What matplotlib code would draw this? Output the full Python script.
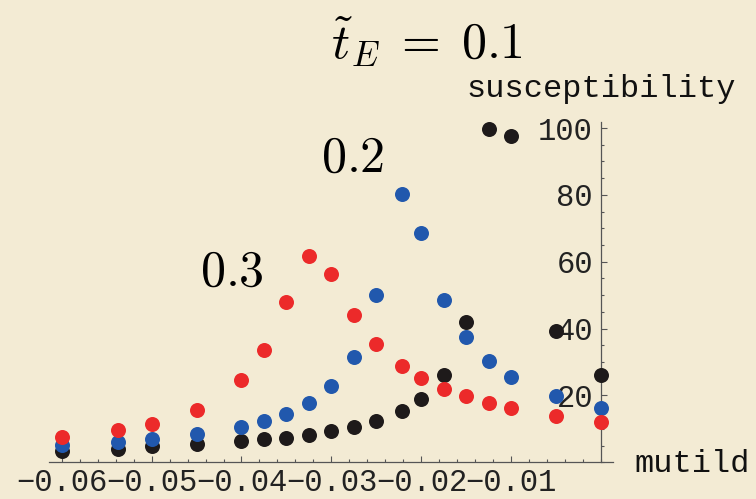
import matplotlib
matplotlib.use("Agg")
import matplotlib.pyplot as plt
from matplotlib.ticker import MultipleLocator, FixedLocator

plt.rcParams['mathtext.fontset'] = 'cm'

BG = '#f3ebd4'
MONO = 'Liberation Mono'

# mutild values
mu = [-0.06, -0.0537, -0.05, -0.045, -0.04, -0.0375, -0.035, -0.0325, -0.03,
      -0.0275, -0.025, -0.0222, -0.02, -0.0175, -0.015, -0.0125, -0.01,
      -0.005, 0.0]

# susceptibility for t_E = 0.1, 0.2, 0.3
chi_01 = [3.5, 4.1, 4.9, 5.4, 6.4, 6.9, 7.4, 8.3, 9.3, 10.5, 12.5, 15.4,
          19.0, 26.0, 42.0, 99.8, 97.6, 39.3, 26.0]
chi_02 = [5.2, 6.1, 7.1, 8.5, 10.7, 12.3, 14.5, 17.7, 22.7, 31.4, 50.0, 80.4,
          68.6, 48.5, 37.4, 30.2, 25.6, 19.7, 16.2]
chi_03 = [7.5, 9.6, 11.5, 15.7, 24.5, 33.5, 47.9, 61.6, 56.2, 44.2, 35.4,
          28.8, 25.2, 22.0, 19.7, 17.7, 16.2, 13.8, 12.0]

series = [(chi_01, '#1e1a1a'), (chi_02, '#2158ad'), (chi_03, '#ec2a2a')]

xticks = [-0.06, -0.05, -0.04, -0.03, -0.02, -0.01]
xticklabels = ['\u22120.06', '\u22120.05', '\u22120.04', '\u22120.03', '\u22120.02', '\u22120.01']
yticks = [20, 40, 60, 80, 100]

fig = plt.figure(figsize=(7.56, 4.99), dpi=100, facecolor=BG)
ax = fig.add_axes([49 / 756, 36.7 / 499, 564 / 756, 340.6 / 499])
ax.set_facecolor(BG)

for chi, col in series:
    ax.plot(mu, chi, 'o', color=col, markersize=10.8, markeredgewidth=0,
            clip_on=False, zorder=3)

ax.set_xlim(-0.0614, 0.0013)
ax.set_ylim(0, 101.9)

# Mathematica-style axes crossing at the origin
ax.spines['top'].set_visible(False)
ax.spines['right'].set_visible(False)
ax.spines['left'].set_position(('data', 0))
ax.spines['bottom'].set_position(('data', 0))
for s in ('left', 'bottom'):
    ax.spines[s].set_color('#555555')
    ax.spines[s].set_linewidth(0.9)

ax.xaxis.set_major_locator(FixedLocator(xticks))
ax.set_xticklabels(xticklabels)
ax.xaxis.set_minor_locator(MultipleLocator(0.002))
ax.yaxis.set_major_locator(FixedLocator(yticks))
ax.yaxis.set_minor_locator(MultipleLocator(5))

ax.tick_params(which='both', direction='in', color='#555555', width=0.8)
ax.tick_params(which='major', length=4.5)
ax.tick_params(which='minor', length=2.5)
ax.tick_params(axis='x', pad=4, labelsize=22, labelcolor='#222222')
ax.tick_params(axis='y', pad=6, labelsize=22, labelcolor='#222222')
for lab in ax.get_xticklabels() + ax.get_yticklabels():
    lab.set_family(MONO)

fig.text(601 / 756, 1 - 97.3 / 499, 'susceptibility', family=MONO, fontsize=23,
         ha='center', va='baseline', color='#111111')
fig.text(634 / 756, 1 - 471.7 / 499, 'mutild', family=MONO, fontsize=23,
         ha='left', va='baseline', color='#111111')

fig.text(426.5 / 756, 1 - 58.3 / 499, r'$\tilde{t}_E\;=\;0.1$', fontsize=36,
         ha='center', va='baseline')
fig.text(353 / 756, 1 - 171.7 / 499, r'$0.2$', fontsize=36,
         ha='center', va='baseline')
fig.text(231.5 / 756, 1 - 286 / 499, r'$0.3$', fontsize=36,
         ha='center', va='baseline')

fig.savefig('out.png', dpi=100, facecolor=BG)
